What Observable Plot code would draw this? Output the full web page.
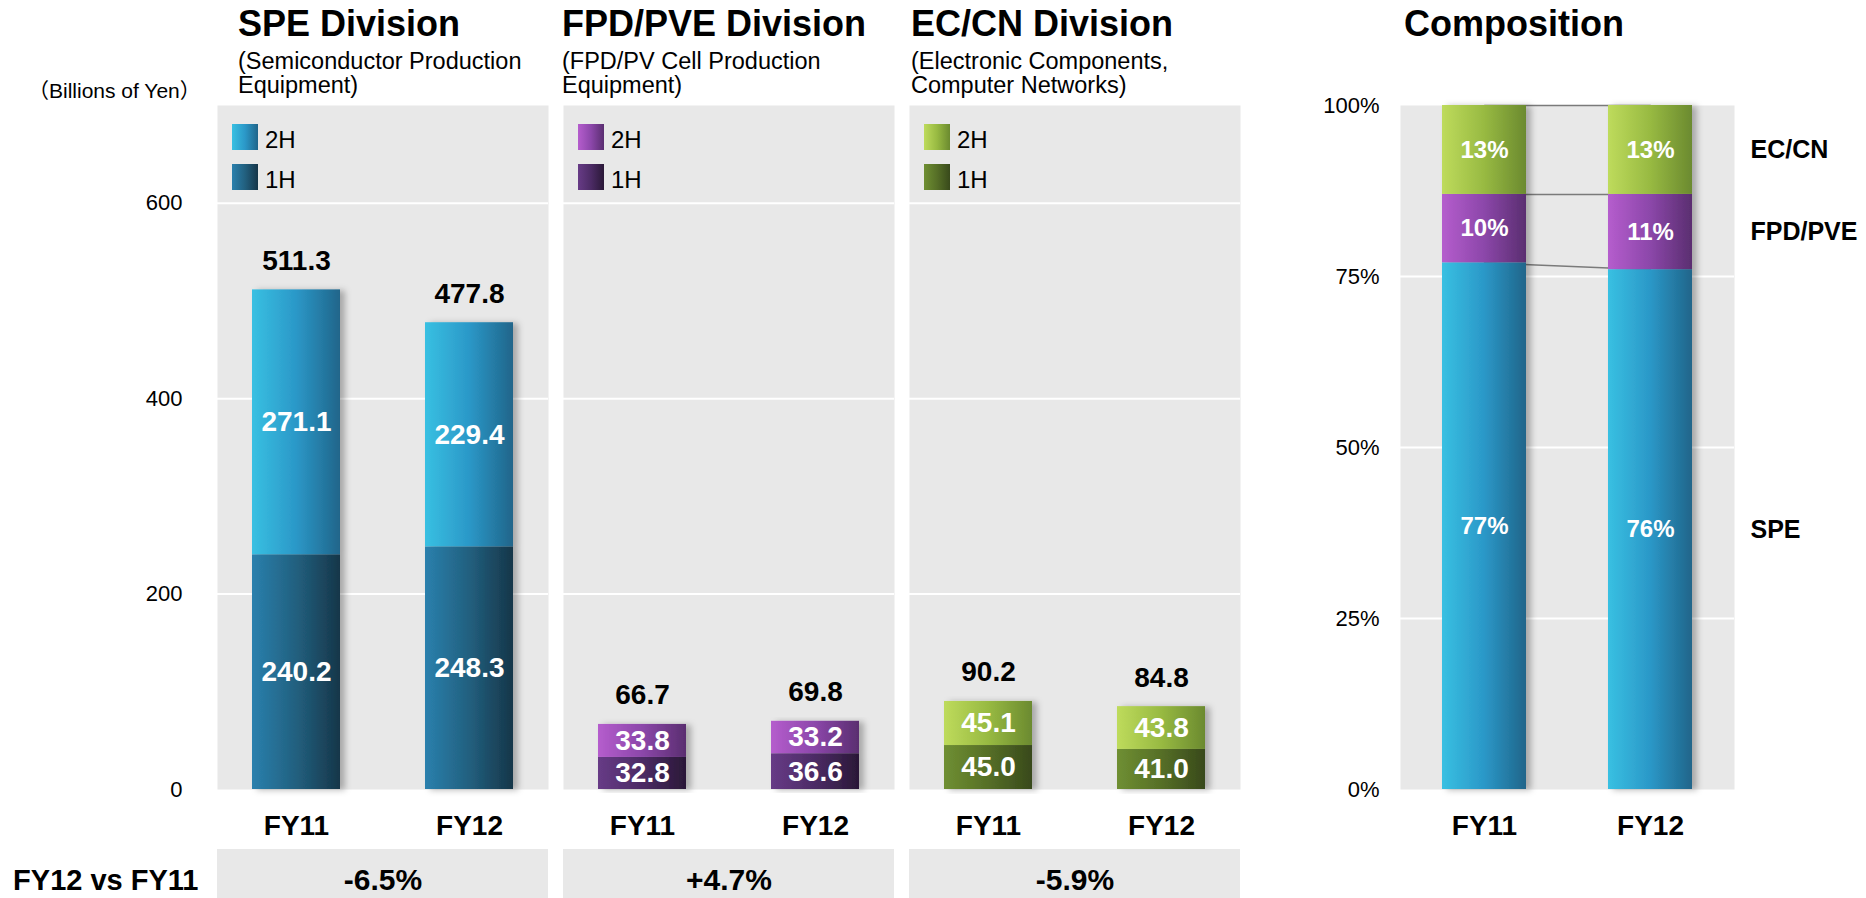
<!DOCTYPE html>
<html><head><meta charset="utf-8">
<script src="https://cdn.jsdelivr.net/npm/d3@7"></script>
<script src="https://cdn.jsdelivr.net/npm/@observablehq/plot@0.6"></script>
<style>
body{margin:0;background:#fff;font-family:"Liberation Sans",Arial,"Noto Sans CJK JP",sans-serif;color:#000;}
#root{position:relative;width:1866px;height:898px;overflow:hidden;background:#fff;}
.abs{position:absolute;}
.title{font-weight:bold;font-size:36px;line-height:36px;white-space:nowrap;}
.sub{font-size:23.5px;line-height:24px;white-space:nowrap;}
.unit{font-size:21px;line-height:22px;white-space:nowrap;}
.leg{display:flex;align-items:center;font-size:24px;height:26px;}
.leg span{position:relative;top:3px;}
.sw{width:26px;height:26px;margin-right:7px;}
</style></head><body><div id="root"></div>
<script>
// ---- data ----
const divisions = ["SPE", "FPD/PVE", "EC/CN"];
const years = ["FY11", "FY12"];
const halves = ["1H", "2H"];
const speH1 = [240.2, 248.3];
const speH2 = [271.1, 229.4];
const speTotal = [511.3, 477.8];
const fpdH1 = [32.8, 36.6];
const fpdH2 = [33.8, 33.2];
const fpdTotal = [66.7, 69.8];
const ecH1 = [45.0, 41.0];
const ecH2 = [45.1, 43.8];
const ecTotal = [90.2, 84.8];
const changeLabels = ["-6.5%", "+4.7%", "-5.9%"];
const compSPE = [77, 76];
const compFPD = [10, 11];
const compEC = [13, 13];
const valueTicks = [0, 200, 400, 600];
const gridValues = [200, 400, 600];
const pctTicks = [0, 25, 50, 75, 100];
const pctGrid = [25, 50, 75];
const titles = ["SPE Division", "FPD/PVE Division", "EC/CN Division"];
const subtitles = [["(Semiconductor Production", "Equipment)"], ["(FPD/PV Cell Production", "Equipment)"], ["(Electronic Components,", "Computer Networks)"]];
const unitLabel = "（Billions of Yen）";
const compareLabel = "FY12 vs FY11";
const compTitle = "Composition";

// ---- styles ----
const grads = {
  "spe-h2": ["#38c0e2", "#2b98c8", "#20658a"],
  "spe-h1": ["#2a80ad", "#22607f", "#163649"],
  "fpd-h2": ["#b55dcd", "#8c47aa", "#5a2e70"],
  "fpd-h1": ["#673b86", "#4c2b65", "#2a1837"],
  "ec-h2": ["#bedb5c", "#98ba42", "#6b8a2f"],
  "ec-h1": ["#6f8f32", "#566f27", "#38491b"]
};
const keys = ["spe", "fpd", "ec"];
const panelLeft = [217, 563, 909];
const titleLeft = [238, 562, 911];
const FONT = "Liberation Sans, Arial, sans-serif";

const root = document.getElementById("root");

// shared defs
const defsSvg = d3.select(root).append("svg").attr("width", 0).attr("height", 0).style("position", "absolute");
const defs = defsSvg.append("defs");
for (const [id, cs] of Object.entries(grads)) {
  const g = defs.append("linearGradient").attr("id", id).attr("x1", 0).attr("x2", 1).attr("y1", 0).attr("y2", 0);
  g.append("stop").attr("offset", "0%").attr("stop-color", cs[0]);
  g.append("stop").attr("offset", "50%").attr("stop-color", cs[1]);
  g.append("stop").attr("offset", "100%").attr("stop-color", cs[2]);
}
const f = defs.append("filter").attr("id", "shadow").attr("x", "-20%").attr("y", "-5%").attr("width", "150%").attr("height", "110%");
f.append("feDropShadow").attr("dx", 5).attr("dy", 1).attr("stdDeviation", 3).attr("flood-color", "#000").attr("flood-opacity", 0.28);

function place(el, left, top) {
  el.style.position = "absolute";
  el.style.left = left + "px";
  el.style.top = top + "px";
  root.appendChild(el);
}
function styleAxes(svg) {
  const s = d3.select(svg);
  s.selectAll('g[aria-label^="x-axis"] text').attr("font-size", 28).attr("font-weight", "bold").style("font-size", "28px").style("font-weight", "bold");
  s.selectAll('g[aria-label^="y-axis"] text').style("font-size", "22px");
  s.selectAll('g[aria-label="bar"]').attr("filter", "url(#shadow)");
}

// ---- division plots ----
const h1s = [speH1, fpdH1, ecH1], h2s = [speH2, fpdH2, ecH2], tots = [speTotal, fpdTotal, ecTotal];
divisions.forEach((div, i) => {
  const key = keys[i];
  const rows = years.flatMap((yr, j) => [
    {year: yr, half: halves[0], value: h1s[i][j]},
    {year: yr, half: halves[1], value: h2s[i][j]}
  ]);
  const tot = years.map((yr, j) => ({year: yr, total: tots[i][j]}));
  const first = i === 0;
  const svg = Plot.plot({
    width: first ? 548 : 331,
    height: 845,
    marginLeft: first ? 217 : 0,
    marginRight: 0,
    marginTop: 105,
    marginBottom: 56,
    style: {fontFamily: FONT, fontSize: "22px", background: "transparent", overflow: "visible", color: "#000"},
    x: {domain: years, paddingInner: 0.49, paddingOuter: 0.2, label: null, tickSize: 0, tickPadding: 26},
    y: {domain: [0, 700], ticks: valueTicks, label: null, tickSize: 0, tickPadding: 35, axis: first ? "left" : null},
    color: {domain: halves, range: [`url(#${key}-h1)`, `url(#${key}-h2)`]},
    marks: [
      Plot.frame({fill: "#e8e8e8", stroke: "none"}),
      Plot.ruleY(gridValues, {stroke: "white", strokeWidth: 2}),
      Plot.barY(rows, {x: "year", y: "value", fill: "half"}),
      Plot.text(rows, Plot.stackY({x: "year", y: "value", text: d => d.value.toFixed(1), fill: "white", fontSize: 28, fontWeight: "bold"})),
      Plot.text(tot, {x: "year", y: "total", text: d => d.total.toFixed(1), dy: -29, fontSize: 28, fontWeight: "bold", fill: "black"})
    ]
  });
  styleAxes(svg);
  place(svg, first ? 0 : panelLeft[i], 0);

  // titles
  const t = document.createElement("div");
  t.className = "title";
  t.textContent = titles[i];
  place(t, titleLeft[i], 6);
  const s = document.createElement("div");
  s.className = "sub";
  s.innerHTML = subtitles[i].join("<br>");
  place(s, titleLeft[i], 49);

  // legend
  [halves[1], halves[0]].forEach((h, k) => {
    const row = document.createElement("div");
    row.className = "leg";
    const sw = document.createElement("div");
    sw.className = "sw";
    const cs = grads[`${key}-${h === "1H" ? "h1" : "h2"}`];
    sw.style.background = `linear-gradient(to right, ${cs[0]}, ${cs[1]}, ${cs[2]})`;
    const lab = document.createElement("span");
    lab.textContent = h;
    row.appendChild(sw);
    row.appendChild(lab);
    place(row, panelLeft[i] + 15, 124 + k * 40);
  });
});

// unit label
const u = document.createElement("div");
u.className = "unit";
u.textContent = unitLabel;
place(u, 28, 80);

// ---- comparison row ----
const changeRows = divisions.map((d, i) => ({div: d, label: changeLabels[i], row: compareLabel}));
const cmp = Plot.plot({
  width: 1260,
  height: 62,
  marginLeft: 217,
  marginRight: 20,
  marginTop: 0,
  marginBottom: 0,
  style: {fontFamily: FONT, background: "transparent", overflow: "visible", color: "#000"},
  x: {domain: divisions, paddingInner: 0.0434, paddingOuter: 0, axis: null},
  y: {domain: [compareLabel], padding: 0, tickSize: 0, tickPadding: 19, label: null},
  marks: [
    Plot.cell(changeRows, {x: "div", y: "row", fill: "#e8e8e8", inset: 0}),
    Plot.text(changeRows, {x: "div", y: "row", text: "label", fontSize: 30, fontWeight: "bold", fill: "black"})
  ]
});
d3.select(cmp).selectAll('g[aria-label^="y-axis"] text').style("font-size", "29px").style("font-weight", "bold");
place(cmp, 0, 849);

// ---- composition ----
const compVals = [compSPE, compFPD, compEC];
const compRows = years.flatMap((yr, j) => divisions.map((d, i) => ({year: yr, div: d, value: compVals[i][j]})));
const comp = Plot.plot({
  width: 606,
  height: 845,
  marginLeft: 140,
  marginRight: 132,
  marginTop: 105,
  marginBottom: 56,
  style: {fontFamily: FONT, fontSize: "22px", background: "transparent", overflow: "visible", color: "#000"},
  x: {domain: years, paddingInner: 0.494, paddingOuter: 0.253, label: null, tickSize: 0, tickPadding: 26},
  y: {domain: [0, 100], ticks: pctTicks, tickFormat: d => d + "%", label: null, tickSize: 0, tickPadding: 21},
  color: {domain: divisions, range: ["url(#spe-h2)", "url(#fpd-h2)", "url(#ec-h2)"]},
  marks: [
    Plot.frame({fill: "#e8e8e8", stroke: "none"}),
    Plot.ruleY(pctGrid, {stroke: "white", strokeWidth: 2}),
    Plot.lineY(compRows, Plot.stackY2({x: "year", y: "value", z: "div", stroke: "#7a7a7a", strokeWidth: 1.5})),
    Plot.barY(compRows, {x: "year", y: "value", fill: "div"}),
    Plot.text(compRows, Plot.stackY({x: "year", y: "value", text: d => d.value + "%", fill: "white", fontSize: 24, fontWeight: "bold"})),
    Plot.text(compRows.filter(d => d.year === years[1]), Plot.stackY({y: "value", text: "div", frameAnchor: "right", textAnchor: "start", dx: 16, fontSize: 25, fontWeight: "bold", fill: "black"}))
  ]
});
styleAxes(comp);
place(comp, 1260, 0);
const ct = document.createElement("div");
ct.className = "title";
ct.textContent = compTitle;
place(ct, 1404, 6);
</script>
</body></html>
